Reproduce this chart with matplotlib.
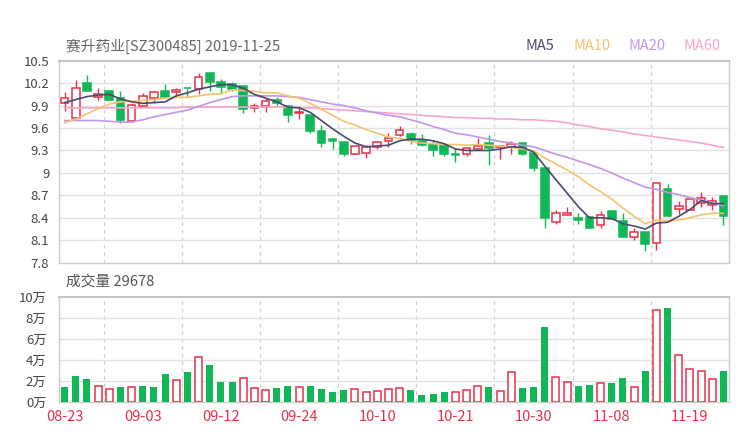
import numpy as np
import matplotlib
matplotlib.use("Agg")
import matplotlib.pyplot as plt

plt.rcParams['font.family'] = ['Noto Sans CJK SC', 'DejaVu Sans']

# daily candles
opens = [9.94, 9.73, 10.20, 10.02, 10.10, 10.00, 9.70, 9.90, 10.00, 10.10,
         10.08, 10.14, 10.12, 10.34, 10.22, 10.19, 10.16, 9.87, 9.89, 9.97,
         9.89, 9.80, 9.77, 9.56, 9.46, 9.41, 9.25, 9.26, 9.34, 9.43,
         9.51, 9.52, 9.43, 9.38, 9.37, 9.25, 9.25, 9.32, 9.40, 9.34,
         9.35, 9.40, 9.27, 9.07, 8.35, 8.44, 8.40, 8.41, 8.30, 8.49,
         8.36, 8.14, 8.21, 8.06, 8.78, 8.52, 8.50, 8.60, 8.57, 8.69]
highs = [10.08, 10.24, 10.31, 10.14, 10.10, 10.09, 9.93, 10.07, 10.10, 10.19,
         10.13, 10.14, 10.34, 10.34, 10.25, 10.21, 10.16, 9.93, 10.00, 10.01,
         9.91, 9.89, 9.77, 9.64, 9.46, 9.41, 9.36, 9.37, 9.43, 9.54,
         9.63, 9.55, 9.52, 9.44, 9.37, 9.33, 9.35, 9.47, 9.51, 9.36,
         9.42, 9.40, 9.28, 9.07, 8.51, 8.55, 8.47, 8.42, 8.49, 8.49,
         8.47, 8.27, 8.21, 8.86, 8.85, 8.62, 8.65, 8.75, 8.68, 8.69]
lows = [9.83, 9.72, 10.09, 9.97, 9.97, 9.67, 9.68, 9.88, 9.94, 10.00,
        10.01, 10.02, 10.06, 10.09, 10.06, 10.10, 9.80, 9.82, 9.82, 9.89,
        9.68, 9.72, 9.54, 9.35, 9.32, 9.23, 9.25, 9.20, 9.32, 9.35,
        9.49, 9.39, 9.36, 9.23, 9.22, 9.14, 9.22, 9.32, 9.11, 9.19,
        9.25, 9.24, 9.03, 8.26, 8.32, 8.44, 8.32, 8.26, 8.26, 8.39,
        8.15, 8.11, 7.95, 7.97, 8.43, 8.45, 8.50, 8.54, 8.50, 8.31]
closes = [10.00, 10.13, 10.10, 10.05, 9.97, 9.71, 9.91, 10.03, 10.08, 10.02,
          10.11, 10.13, 10.28, 10.22, 10.15, 10.12, 9.86, 9.89, 9.96, 9.93,
          9.78, 9.81, 9.56, 9.40, 9.42, 9.25, 9.36, 9.34, 9.41, 9.47,
          9.57, 9.44, 9.37, 9.31, 9.25, 9.24, 9.33, 9.36, 9.33, 9.36,
          9.38, 9.25, 9.06, 8.40, 8.47, 8.47, 8.37, 8.27, 8.44, 8.39,
          8.15, 8.21, 8.05, 8.86, 8.43, 8.56, 8.65, 8.67, 8.62, 8.43]

# moving averages as drawn
ma5 = [9.94, 9.98, 10.02, 10.04, 10.05, 9.99, 9.95, 9.93, 9.94, 9.95,
       10.03, 10.07, 10.12, 10.15, 10.18, 10.18, 10.13, 10.05, 10.00, 9.95,
       9.88, 9.87, 9.81, 9.70, 9.59, 9.49, 9.40, 9.35, 9.36, 9.37,
       9.43, 9.45, 9.45, 9.43, 9.39, 9.32, 9.30, 9.30, 9.30, 9.32,
       9.35, 9.34, 9.28, 9.09, 8.91, 8.73, 8.55, 8.40, 8.40, 8.39,
       8.32, 8.29, 8.25, 8.33, 8.34, 8.42, 8.51, 8.63, 8.59, 8.59]
ma10 = [9.67, 9.72, 9.79, 9.86, 9.92, 9.95, 9.96, 9.97, 9.98, 10.00,
        10.01, 10.01, 10.03, 10.05, 10.06, 10.11, 10.10, 10.09, 10.07, 10.07,
        10.03, 10.00, 9.93, 9.85, 9.77, 9.69, 9.64, 9.58, 9.53, 9.48,
        9.46, 9.42, 9.40, 9.39, 9.38, 9.38, 9.37, 9.38, 9.37, 9.36,
        9.34, 9.32, 9.29, 9.20, 9.12, 9.04, 8.95, 8.84, 8.75, 8.65,
        8.53, 8.42, 8.32, 8.37, 8.36, 8.37, 8.40, 8.44, 8.46, 8.46]
ma20 = [9.70, 9.70, 9.70, 9.70, 9.69, 9.68, 9.68, 9.71, 9.75, 9.78,
        9.81, 9.84, 9.89, 9.94, 9.98, 10.02, 10.03, 10.03, 10.03, 10.03,
        10.02, 10.01, 9.98, 9.95, 9.92, 9.90, 9.87, 9.83, 9.80, 9.77,
        9.75, 9.71, 9.67, 9.62, 9.58, 9.53, 9.51, 9.48, 9.45, 9.42,
        9.40, 9.37, 9.35, 9.30, 9.25, 9.21, 9.16, 9.11, 9.06, 9.00,
        8.93, 8.87, 8.81, 8.78, 8.74, 8.71, 8.67, 8.64, 8.60, 8.56]
ma60 = [9.87, 9.87, 9.87, 9.87, 9.87, 9.87, 9.87, 9.87, 9.87, 9.87,
        9.87, 9.88, 9.88, 9.88, 9.88, 9.88, 9.88, 9.88, 9.88, 9.88,
        9.88, 9.87, 9.87, 9.86, 9.85, 9.84, 9.83, 9.82, 9.81, 9.80,
        9.79, 9.78, 9.77, 9.76, 9.75, 9.74, 9.74, 9.73, 9.73, 9.72,
        9.72, 9.71, 9.71, 9.70, 9.69, 9.67, 9.64, 9.62, 9.59, 9.57,
        9.55, 9.52, 9.50, 9.48, 9.46, 9.44, 9.42, 9.40, 9.37, 9.34]

# volume (shares) and bar colour as drawn (1 = red hollow, 0 = green)
volume = [14000, 24800, 21700, 15600, 12100, 14600, 14000, 15600, 14000, 26400,
          21000, 29000, 42700, 35600, 18800, 18800, 23200, 13700, 11500, 13400,
          15000, 14000, 15000, 12700, 9600, 11100, 12400, 9600, 10800, 12700,
          13100, 11800, 6700, 8000, 9600, 9900, 11100, 15000, 14000, 10500,
          29000, 13100, 14600, 71900, 23600, 18800, 15600, 15900, 17800, 18100,
          22600, 14000, 29300, 87600, 89800, 44600, 31500, 29300, 22300, 29678]
vol_up = [0, 0, 0, 1, 1, 0, 1, 0, 0, 0, 1, 0, 1, 0, 0, 0, 1, 1, 1, 0,
          0, 1, 0, 0, 0, 0, 1, 1, 1, 1, 1, 0, 0, 0, 0, 1, 1, 1, 0, 1,
          1, 0, 0, 0, 1, 1, 0, 0, 1, 0, 0, 1, 0, 1, 0, 1, 1, 1, 1, 0]

date_labels = ["08-23", "09-03", "09-12", "09-24", "10-10",
               "10-21", "10-30", "11-08", "11-19"]
price_ticks = [7.8, 8.1, 8.4, 8.7, 9.0, 9.3, 9.6, 9.9, 10.2, 10.5]
vol_ticks = [0, 20000, 40000, 60000, 80000, 100000]

RED = "#e8304a"
GREEN = "#10b756"
GRID = "#e2e2e2"
FRAME = "#cccccc"
ma_colors = {"MA5": "#4b4a6b", "MA10": "#f7c26d", "MA20": "#c196e8", "MA60": "#f6a5cc"}

fig = plt.figure(figsize=(7.4, 4.4), dpi=100)
ax = fig.add_axes([59 / 740, 1 - 262.7 / 440, 670 / 740, 202 / 440])
axv = fig.add_axes([59 / 740, 1 - 402 / 440, 670 / 740, 104.7 / 440])

n = len(closes)
x = np.arange(n)
label_pos = np.arange(len(date_labels)) * 7
split_pos = label_pos[:-1] + 3.5

for a in (ax, axv):
    a.set_xlim(-0.5, n - 0.5)
    for s in a.spines.values():
        s.set_color(FRAME)
        s.set_linewidth(1)
    a.spines["top"].set_color("#c4c4c4")
    a.spines["top"].set_linewidth(1.5)
    for p in split_pos:
        a.axvline(p, color="#d0d0d0", lw=0.9, ls=(0, (3, 3)), zorder=0)
    a.tick_params(length=0, colors="#444444", labelsize=9.5)

# price panel
ax.set_ylim(7.8, 10.5)
ax.set_yticks(price_ticks)
ax.set_yticklabels([f"{t:g}" for t in price_ticks])
ax.tick_params(axis="y", pad=7)
ax.set_xticks([])
for t in price_ticks[1:-1]:
    ax.axhline(t, color=GRID, lw=1, zorder=0)

for i in range(n):
    up = closes[i] >= opens[i]
    col = RED if up else GREEN
    ax.vlines(i, lows[i], highs[i], color=col, lw=1, zorder=2)
    lo = min(opens[i], closes[i])
    h = max(abs(closes[i] - opens[i]), 0.01)
    ax.bar(i, h, bottom=lo, width=0.68, facecolor="white" if up else GREEN,
           edgecolor=col, linewidth=1.1, zorder=3)

for name, vals in (("MA60", ma60), ("MA20", ma20), ("MA10", ma10), ("MA5", ma5)):
    ax.plot(x, vals, color=ma_colors[name], lw=1.2, zorder=4)

# volume panel
axv.set_ylim(0, 100000)
axv.set_yticks(vol_ticks)
axv.set_yticklabels([f"{t // 10000}万" for t in vol_ticks])
axv.tick_params(axis="y", pad=9)
for t in vol_ticks[1:-1]:
    axv.axhline(t, color=GRID, lw=1, zorder=0)
for i in range(n):
    if vol_up[i]:
        axv.bar(i, volume[i], width=0.64, facecolor="white", edgecolor=RED,
                linewidth=1.1, zorder=3)
    else:
        axv.bar(i, volume[i], width=0.64, color=GREEN, zorder=3)
axv.set_xticks(label_pos)
axv.set_xticklabels(date_labels, color=RED, fontsize=10.5)
axv.tick_params(axis="x", pad=6)

# titles and legend
fig.text(66 / 740, 1 - 46 / 440, "赛升药业[SZ300485] 2019-11-25", fontsize=10.6,
         color="#666666", va="center", ha="left")
fig.text(66 / 740, 1 - 282 / 440, f"成交量 {volume[-1]}", fontsize=10.6,
         color="#555555", va="center", ha="left")
for name, xc in (("MA5", 540), ("MA10", 592), ("MA20", 647), ("MA60", 702)):
    fig.text(xc / 740, 1 - 46 / 440, name, fontsize=10.5, color=ma_colors[name],
             va="center", ha="center")

fig.savefig("out.png", dpi=100)
